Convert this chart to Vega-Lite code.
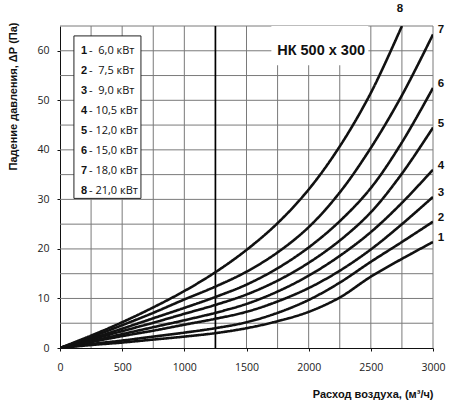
{
  "$schema": "https://vega.github.io/schema/vega-lite/v6.json",
  "width": 373,
  "height": 322,
  "autosize": "none",
  "padding": {"left": 60, "top": 26, "right": 17, "bottom": 55},
  "background": "white",
  "data": {"values": [{}]},
  "config": {
    "view": {"stroke": null},
    "rule": {"color": "#7a7a7a", "strokeWidth": 1},
    "axis": {
      "grid": false,
      "domainColor": "#111",
      "tickColor": "#111",
      "labelFont": "Open Sans",
      "labelFontSize": 10.5,
      "labelColor": "#222",
      "titleFont": "Liberation Sans",
      "titleFontWeight": "bold",
      "titleFontSize": 11,
      "titleColor": "#111"
    },
    "legend": {
      "orient": "none",
      "direction": "vertical",
      "title": null,
      "padding": 0,
      "symbolSize": 0,
      "symbolStrokeWidth": 0,
      "symbolOpacity": 0,
      "labelOffset": 0,
      "rowPadding": 8,
      "labelFontSize": 11,
      "labelColor": "#111",
      "labelLimit": 200
    }
  },
  "datasets": {
    "curves": [
      {"n": "1", "q": 0, "dp": 0}, {"n": "1", "q": 250, "dp": 0.6}, {"n": "1", "q": 500, "dp": 1.1},
      {"n": "1", "q": 750, "dp": 1.7}, {"n": "1", "q": 1000, "dp": 2.3}, {"n": "1", "q": 1250, "dp": 3.0},
      {"n": "1", "q": 1500, "dp": 4.0}, {"n": "1", "q": 1750, "dp": 5.4}, {"n": "1", "q": 2000, "dp": 7.3},
      {"n": "1", "q": 2250, "dp": 10.2}, {"n": "1", "q": 2500, "dp": 14.4}, {"n": "1", "q": 2750, "dp": 18.0},
      {"n": "1", "q": 3000, "dp": 21.4},
      {"n": "2", "q": 0, "dp": 0}, {"n": "2", "q": 250, "dp": 0.8}, {"n": "2", "q": 500, "dp": 1.5},
      {"n": "2", "q": 750, "dp": 2.3}, {"n": "2", "q": 1000, "dp": 3.1}, {"n": "2", "q": 1250, "dp": 4.0},
      {"n": "2", "q": 1500, "dp": 5.2}, {"n": "2", "q": 1750, "dp": 7.1}, {"n": "2", "q": 2000, "dp": 9.7},
      {"n": "2", "q": 2250, "dp": 13.2}, {"n": "2", "q": 2500, "dp": 17.4}, {"n": "2", "q": 2750, "dp": 21.4},
      {"n": "2", "q": 3000, "dp": 25.5},
      {"n": "3", "q": 0, "dp": 0}, {"n": "3", "q": 250, "dp": 1.2}, {"n": "3", "q": 500, "dp": 2.4},
      {"n": "3", "q": 750, "dp": 3.5}, {"n": "3", "q": 1000, "dp": 4.7}, {"n": "3", "q": 1250, "dp": 5.9},
      {"n": "3", "q": 1500, "dp": 7.3}, {"n": "3", "q": 1750, "dp": 9.4}, {"n": "3", "q": 2000, "dp": 12.1},
      {"n": "3", "q": 2250, "dp": 15.6}, {"n": "3", "q": 2500, "dp": 19.9}, {"n": "3", "q": 2750, "dp": 25.0},
      {"n": "3", "q": 3000, "dp": 30.5},
      {"n": "4", "q": 0, "dp": 0}, {"n": "4", "q": 250, "dp": 1.4}, {"n": "4", "q": 500, "dp": 2.8},
      {"n": "4", "q": 750, "dp": 4.2}, {"n": "4", "q": 1000, "dp": 5.6}, {"n": "4", "q": 1250, "dp": 7.1},
      {"n": "4", "q": 1500, "dp": 8.9}, {"n": "4", "q": 1750, "dp": 11.4}, {"n": "4", "q": 2000, "dp": 14.6},
      {"n": "4", "q": 2250, "dp": 18.6}, {"n": "4", "q": 2500, "dp": 23.4}, {"n": "4", "q": 2750, "dp": 29.3},
      {"n": "4", "q": 3000, "dp": 36.0},
      {"n": "5", "q": 0, "dp": 0}, {"n": "5", "q": 250, "dp": 1.7}, {"n": "5", "q": 500, "dp": 3.4},
      {"n": "5", "q": 750, "dp": 5.1}, {"n": "5", "q": 1000, "dp": 6.9}, {"n": "5", "q": 1250, "dp": 8.7},
      {"n": "5", "q": 1500, "dp": 10.8}, {"n": "5", "q": 1750, "dp": 13.6}, {"n": "5", "q": 2000, "dp": 17.2},
      {"n": "5", "q": 2250, "dp": 21.7}, {"n": "5", "q": 2500, "dp": 27.4}, {"n": "5", "q": 2750, "dp": 35.2},
      {"n": "5", "q": 3000, "dp": 44.5},
      {"n": "6", "q": 0, "dp": 0}, {"n": "6", "q": 250, "dp": 1.9}, {"n": "6", "q": 500, "dp": 3.9},
      {"n": "6", "q": 750, "dp": 6.0}, {"n": "6", "q": 1000, "dp": 8.1}, {"n": "6", "q": 1250, "dp": 10.3},
      {"n": "6", "q": 1500, "dp": 12.8}, {"n": "6", "q": 1750, "dp": 16.1}, {"n": "6", "q": 2000, "dp": 20.3},
      {"n": "6", "q": 2250, "dp": 25.6}, {"n": "6", "q": 2500, "dp": 32.3}, {"n": "6", "q": 2750, "dp": 41.5},
      {"n": "6", "q": 3000, "dp": 52.5},
      {"n": "7", "q": 0, "dp": 0}, {"n": "7", "q": 250, "dp": 2.2}, {"n": "7", "q": 500, "dp": 4.6},
      {"n": "7", "q": 750, "dp": 7.1}, {"n": "7", "q": 1000, "dp": 9.8}, {"n": "7", "q": 1250, "dp": 12.4},
      {"n": "7", "q": 1500, "dp": 15.4}, {"n": "7", "q": 1750, "dp": 19.3}, {"n": "7", "q": 2000, "dp": 24.4},
      {"n": "7", "q": 2250, "dp": 31.4}, {"n": "7", "q": 2500, "dp": 40.4}, {"n": "7", "q": 2750, "dp": 51.0},
      {"n": "7", "q": 3000, "dp": 63.3},
      {"n": "8", "q": 0, "dp": 0}, {"n": "8", "q": 250, "dp": 2.5}, {"n": "8", "q": 500, "dp": 5.2},
      {"n": "8", "q": 750, "dp": 8.2}, {"n": "8", "q": 1000, "dp": 11.5}, {"n": "8", "q": 1250, "dp": 15.3},
      {"n": "8", "q": 1500, "dp": 19.8}, {"n": "8", "q": 1750, "dp": 25.2}, {"n": "8", "q": 2000, "dp": 32.0},
      {"n": "8", "q": 2250, "dp": 40.7}, {"n": "8", "q": 2500, "dp": 51.5}, {"n": "8", "q": 2750, "dp": 65.0}
    ],
    "legend": [
      {"n": "1", "label": "- \u00a06,0 кВт"},
      {"n": "2", "label": "- \u00a07,5 кВт"},
      {"n": "3", "label": "- \u00a09,0 кВт"},
      {"n": "4", "label": "- 10,5 кВт"},
      {"n": "5", "label": "- 12,0 кВт"},
      {"n": "6", "label": "- 15,0 кВт"},
      {"n": "7", "label": "- 18,0 кВт"},
      {"n": "8", "label": "- 21,0 кВт"}
    ]
  },
  "layer": [
    {"mark": "rule", "encoding": {"x": {"datum": 250, "type": "quantitative"}}},
    {"mark": "rule", "encoding": {"x": {"datum": 500, "type": "quantitative"}}},
    {"mark": "rule", "encoding": {"x": {"datum": 750, "type": "quantitative"}}},
    {"mark": "rule", "encoding": {"x": {"datum": 1000, "type": "quantitative"}}},
    {"mark": "rule", "encoding": {"x": {"datum": 1500, "type": "quantitative"}}},
    {"mark": "rule", "encoding": {"x": {"datum": 1750, "type": "quantitative"}}},
    {"mark": "rule", "encoding": {"x": {"datum": 2000, "type": "quantitative"}}},
    {"mark": "rule", "encoding": {"x": {"datum": 2250, "type": "quantitative"}}},
    {"mark": "rule", "encoding": {"x": {"datum": 2500, "type": "quantitative"}}},
    {"mark": "rule", "encoding": {"x": {"datum": 2750, "type": "quantitative"}}},
    {"mark": "rule", "encoding": {"x": {"datum": 3000, "type": "quantitative"}}},
    {"mark": "rule", "encoding": {"y": {"datum": 5, "type": "quantitative"}}},
    {"mark": "rule", "encoding": {"y": {"datum": 10, "type": "quantitative"}}},
    {"mark": "rule", "encoding": {"y": {"datum": 15, "type": "quantitative"}}},
    {"mark": "rule", "encoding": {"y": {"datum": 20, "type": "quantitative"}}},
    {"mark": "rule", "encoding": {"y": {"datum": 25, "type": "quantitative"}}},
    {"mark": "rule", "encoding": {"y": {"datum": 30, "type": "quantitative"}}},
    {"mark": "rule", "encoding": {"y": {"datum": 35, "type": "quantitative"}}},
    {"mark": "rule", "encoding": {"y": {"datum": 40, "type": "quantitative"}}},
    {"mark": "rule", "encoding": {"y": {"datum": 45, "type": "quantitative"}}},
    {"mark": "rule", "encoding": {"y": {"datum": 50, "type": "quantitative"}}},
    {"mark": "rule", "encoding": {"y": {"datum": 55, "type": "quantitative"}}},
    {"mark": "rule", "encoding": {"y": {"datum": 60, "type": "quantitative"}}},
    {"mark": "rule", "encoding": {"y": {"datum": 65, "type": "quantitative"}}},
    {
      "mark": {"type": "rule", "color": "#000", "strokeWidth": 1.7},
      "encoding": {"x": {"datum": 1250, "type": "quantitative"}}
    },
    {
      "data": {"name": "curves"},
      "transform": [
        {"lookup": "n", "from": {"data": {"name": "legend"}, "key": "n", "fields": ["label"]}}
      ],
      "mark": {"type": "line", "interpolate": "catmull-rom", "strokeWidth": 2.6, "clip": true},
      "encoding": {
        "x": {
          "field": "q",
          "type": "quantitative",
          "scale": {"domain": [0, 3000], "nice": false},
          "axis": {
            "values": [0, 500, 1000, 1500, 2000, 2500, 3000],
            "format": "d",
            "tickSize": 3,
            "labelPadding": 11,
            "labelFlush": false,
            "labelOverlap": false,
            "title": "Расход воздуха, (м³/ч)",
            "titleX": 373,
            "titleY": 49,
            "titleAlign": "right",
            "titleBaseline": "alphabetic"
          }
        },
        "y": {
          "field": "dp",
          "type": "quantitative",
          "scale": {"domain": [0, 65], "nice": false},
          "axis": {
            "values": [0, 10, 20, 30, 40, 50, 60],
            "tickSize": 3,
            "labelPadding": 8,
            "labelFlush": false,
            "labelOverlap": false,
            "title": "Падение давления, ΔР (Па)",
            "titleAngle": -90,
            "titleX": -44,
            "titleY": -4,
            "titleAlign": "right",
            "titleBaseline": "alphabetic"
          }
        },
        "color": {
          "field": "label",
          "type": "nominal",
          "sort": {"field": "n"},
          "scale": {"range": ["#111"]},
          "legend": {"legendX": 18, "legendY": 19.8, "labelFont": "Open Sans"}
        },
        "strokeDash": {
          "field": "n",
          "type": "nominal",
          "scale": {"range": [[1, 0]]},
          "legend": {"legendX": 10, "legendY": 19.8, "labelFont": "Liberation Sans", "labelFontWeight": "bold"}
        }
      }
    },
    {
      "mark": {"type": "rect", "fill": "white", "strokeWidth": 0},
      "encoding": {
        "x": {"datum": 1700, "type": "quantitative"},
        "x2": {"datum": 2480},
        "y": {"datum": 57.1, "type": "quantitative"},
        "y2": {"datum": 65}
      }
    },
    {
      "mark": {"type": "rect", "fill": "white", "stroke": "#222", "strokeWidth": 1},
      "encoding": {
        "x": {"datum": 112, "type": "quantitative"},
        "x2": {"datum": 651},
        "y": {"datum": 30.2, "type": "quantitative"},
        "y2": {"datum": 63.0}
      }
    },
    {
      "data": {"values": [{"title": "НК 500 x 300"}]},
      "mark": {"type": "text", "font": "Liberation Sans", "fontWeight": "bold", "fontSize": 14.5, "color": "#111", "align": "center", "baseline": "middle"},
      "encoding": {
        "x": {"datum": 2100, "type": "quantitative"},
        "y": {"datum": 60, "type": "quantitative"},
        "text": {"field": "title"}
      }
    },
    {
      "data": {"name": "curves"},
      "transform": [{"filter": "datum.q == 3000"}],
      "mark": {"type": "text", "font": "Liberation Sans", "fontWeight": "bold", "fontSize": 11.5, "color": "#111", "align": "center", "baseline": "middle", "dx": 8, "dy": -4},
      "encoding": {
        "x": {"field": "q", "type": "quantitative"},
        "y": {"field": "dp", "type": "quantitative"},
        "text": {"field": "n"}
      }
    },
    {
      "data": {"name": "curves"},
      "transform": [{"filter": "datum.n == '8' && datum.dp == 65"}],
      "mark": {"type": "text", "font": "Liberation Sans", "fontWeight": "bold", "fontSize": 11.5, "color": "#111", "align": "center", "baseline": "middle", "dx": -2, "dy": -17},
      "encoding": {
        "x": {"field": "q", "type": "quantitative"},
        "y": {"field": "dp", "type": "quantitative"},
        "text": {"field": "n"}
      }
    }
  ]
}
